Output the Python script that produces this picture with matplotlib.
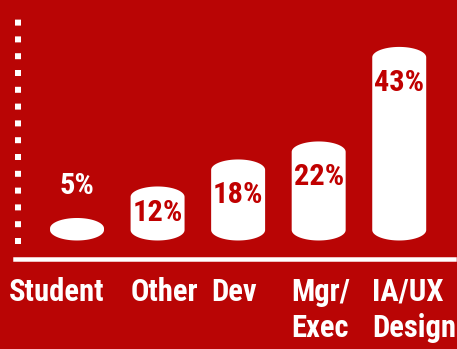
import numpy as np
import matplotlib
matplotlib.use("Agg")
import matplotlib.pyplot as plt
import matplotlib.font_manager as fm
from matplotlib.patches import Polygon

# data
categories = ["Student", "Other", "Dev", "Mgr/\nExec", "IA/UX\nDesign"]
values = [5, 12, 18, 22, 43]
pct_labels = ["5%", "12%", "18%", "22%", "43%"]

bg = "#B90505"
txt_red = "#C00000"

# pick the narrowest installed sans we can find
installed = {(f.name, f.stretch) for f in fm.fontManager.ttflist}
names = {n for n, s in installed}
font_kw = {"family": "Roboto", "fontweight": "bold"}
for cand in ["Liberation Sans Narrow", "Roboto Condensed", "Open Sans Condensed",
             "Noto Sans Condensed", "DejaVu Sans Condensed"]:
    if cand in names:
        font_kw = {"family": cand, "fontweight": "bold"}
        break
else:
    if ("DejaVu Sans", "condensed") in installed:
        font_kw = {"family": "DejaVu Sans", "fontstretch": "condensed", "fontweight": "bold"}

fig = plt.figure(figsize=(4.57, 3.49), dpi=100, facecolor=bg)
ax = fig.add_axes([15 / 457, (349 - 258.5) / 349, 439 / 457, 239.5 / 349])
ax.set_facecolor(bg)
ax.set_xlim(-0.77, 4.68)
ax.set_ylim(-4, 49.2)
renderer = fig.canvas.get_renderer()


def fit_size(s, target_w, target_h, base=20):
    t = fig.text(0, 0, s, fontsize=base, **font_kw)
    bb = t.get_window_extent(renderer)
    t.remove()
    return base * min(target_w / bb.width, target_h / bb.height)


pct_size = fit_size("43%", 50, 40)
cat_size = fit_size("Design", 84, 80)

w = 0.67        # bar width (category units)
ry_full = 2.33  # cap ellipse half height (% units)

for i, v in enumerate(values):
    ry = min(ry_full, v / 2)
    t1 = np.linspace(0, np.pi, 60)
    t2 = np.linspace(np.pi, 2 * np.pi, 60)
    xs = np.concatenate([i + w / 2 * np.cos(t1), i + w / 2 * np.cos(t2)])
    ys = np.concatenate([v - ry + ry * np.sin(t1), ry + ry * np.sin(t2)])
    ax.add_patch(Polygon(np.column_stack([xs, ys]), closed=True,
                         facecolor="white", edgecolor="none"))
    if v < 10:
        ax.text(i, v + 7.0, pct_labels[i], ha="center", va="center",
                color="white", fontsize=pct_size, **font_kw)
    else:
        ax.text(i, max(v / 2, v - 8), pct_labels[i], ha="center", va="center",
                color=txt_red, fontsize=pct_size, **font_kw)

# category labels under the baseline
for i, lab in enumerate(categories):
    if i == 0:
        x, ha = i + w / 2, "right"
    else:
        x, ha = i - w / 2, "left"
    ax.annotate(lab, xy=(x, -4), xytext=(0, -13), textcoords="offset points",
                ha=ha, va="top", color="white", fontsize=cat_size,
                linespacing=1.25, annotation_clip=False, **font_kw)

# spines: dotted left axis, solid white baseline
for s in ["top", "right"]:
    ax.spines[s].set_visible(False)
ax.spines["bottom"].set_color("white")
ax.spines["bottom"].set_linewidth(3.24)
ax.spines["left"].set_color("white")
ax.spines["left"].set_linewidth(4.32)
ax.spines["left"].set_capstyle("butt")
ax.spines["left"].set_linestyle((0, (1, 1.8)))
ax.spines["left"].set_position(("outward", -2.16))
ax.spines["left"].set_bounds(-0.89, 49.1)
ax.set_xticks([])
ax.set_yticks([])

fig.savefig("out.png", dpi=100, facecolor=bg)
